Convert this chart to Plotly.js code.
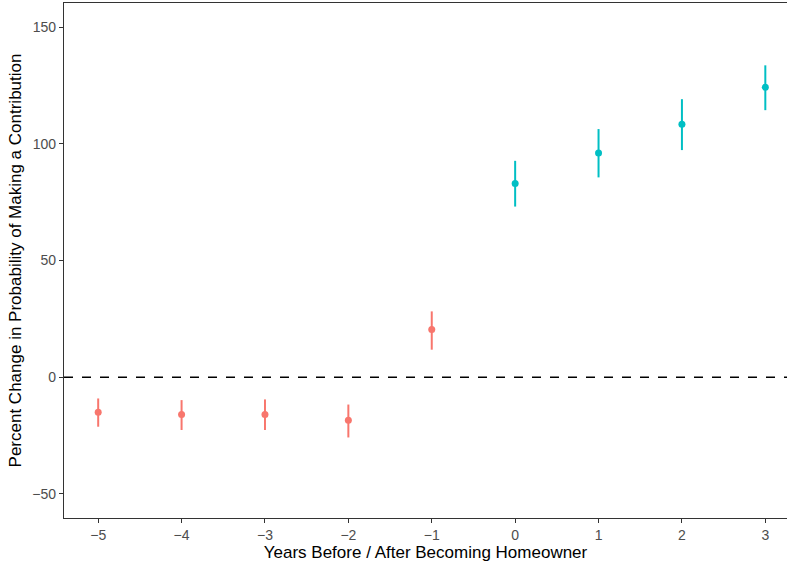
<!DOCTYPE html>
<html><head><meta charset="utf-8">
<script src="https://cdn.plot.ly/plotly-3.0.1.min.js"></script>
<style>html,body{margin:0;padding:0;background:#fff}#chart{width:788px;height:562px}</style>
</head><body><div id="chart"></div>
<script>
const yearsBefore = [-5, -4, -3, -2, -1];
const valuesBefore = [-15.0, -16.0, -16.0, -18.4, 20.4];
const lowerBefore = [-21.2, -22.6, -22.6, -25.8, 11.8];
const upperBefore = [-9.1, -9.8, -9.5, -11.7, 28.2];
const yearsAfter = [0, 1, 2, 3];
const valuesAfter = [83.0, 96.0, 108.4, 124.2];
const lowerAfter = [73.1, 85.6, 97.3, 114.4];
const upperAfter = [92.7, 106.3, 119.1, 133.6];
const xTicks = [-5, -4, -3, -2, -1, 0, 1, 2, 3];
const yTicks = [-50, 0, 50, 100, 150];
const fmt = v => (v < 0 ? '\u2212' + Math.abs(v) : String(v));

function series(x, y, lo, hi, color) {
  return {
    type: 'scatter', mode: 'markers', x: x, y: y,
    marker: {color: color, size: 7},
    error_y: {type: 'data', symmetric: false,
      array: y.map((v, i) => hi[i] - v),
      arrayminus: y.map((v, i) => v - lo[i]),
      color: color, thickness: 2, width: 0},
    showlegend: false, hoverinfo: 'x+y'
  };
}
const font = {family: 'Liberation Sans, Arial, sans-serif'};
Plotly.newPlot('chart', [
  series(yearsBefore, valuesBefore, lowerBefore, upperBefore, '#F8766D'),
  series(yearsAfter, valuesAfter, lowerAfter, upperAfter, '#00BFC4')
], {
  width: 788, height: 562,
  margin: {l: 64, r: 1, t: 3, b: 44},
  paper_bgcolor: '#fff', plot_bgcolor: '#fff',
  font: font,
  shapes: [{type: 'line', xref: 'paper', x0: 0, x1: 1, yref: 'y', y0: 0, y1: 0,
    line: {color: '#000', width: 1.5, dash: 'dash'}}],
  xaxis: {range: [-5.41, 3.26], tickvals: xTicks, ticktext: xTicks.map(fmt),
    showgrid: false, zeroline: false, showline: true, mirror: true, linecolor: '#333', linewidth: 1.3,
    ticks: 'outside', ticklen: 4, tickcolor: '#333', tickwidth: 1.2,
    tickfont: {size: 14, color: '#4D4D4D', family: font.family},
    title: {text: 'Years Before / After Becoming Homeowner', standoff: 4,
      font: {size: 17, color: '#000', family: font.family}}},
  yaxis: {range: [-60.3, 160.3], tickvals: yTicks, ticktext: yTicks.map(fmt),
    showgrid: false, zeroline: false, showline: true, linecolor: '#333', linewidth: 1.3,
    ticks: 'outside', ticklen: 4, tickcolor: '#333', tickwidth: 1.2,
    tickfont: {size: 14, color: '#4D4D4D', family: font.family},
    title: {text: 'Percent Change in Probability of Making a Contribution', standoff: 6,
      font: {size: 17, color: '#000', family: font.family}}}
}, {displayModeBar: false});
</script></body></html>
